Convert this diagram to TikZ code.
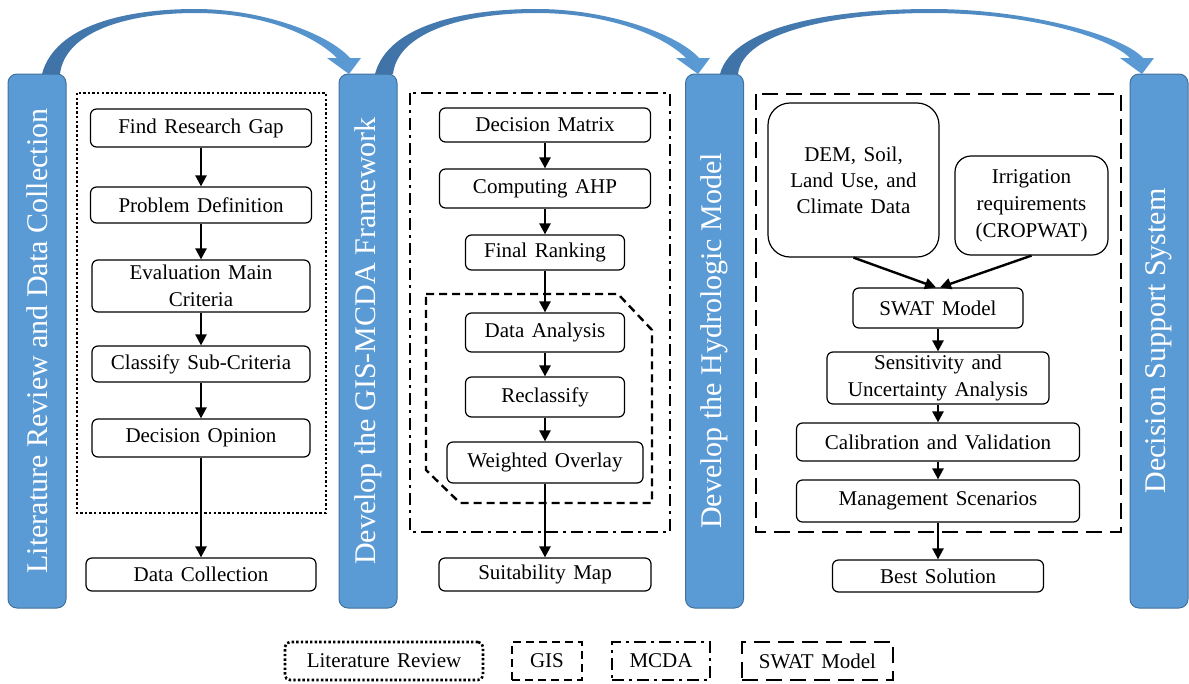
\documentclass[tikz,border=0pt]{standalone}
\usepackage{fontspec}
\setmainfont{Liberation Serif}
\usetikzlibrary{arrows.meta}
\definecolor{pillarfill}{HTML}{5B9BD5}
\definecolor{pillarline}{HTML}{41719C}
\definecolor{arcdark}{HTML}{3F72A6}
\definecolor{arclight}{HTML}{5B9BD5}

% #1 = left x of the tail, #2 = x of the tip
\newcommand\blueswoop[2]{%
 \pgfmathsetmacro\swA{#1}%
 \pgfmathsetmacro\swB{#1+18}%
 \pgfmathsetmacro\swM{(#1+#2)/2}%
 \pgfmathsetmacro\swD{0.45*(\swM-#1)}%
 \shade[left color=arcdark,right color=arclight,draw=none]
 (\swA,74) .. controls ({\swA+13},25) and ({\swM-\swD},9) .. (\swM,9)
 .. controls ({\swM+\swD},9) and ({#2-19},35) .. ({#2+1},58)
 -- ({#2+12},58) -- (#2,74) -- ({#2-22},58) -- ({#2-12},58)
 .. controls ({#2-34},36) and ({\swM+\swD},13) .. (\swM,13)
 .. controls ({\swM-\swD},13) and ({\swB+5},32) .. (\swB,74) -- cycle;
}
\newcommand\boxfont{\fontsize{21}{27}\selectfont\spaceskip=7.5pt plus 2pt minus 1pt\relax}
\newcommand\demfont{\fontsize{21}{26}\selectfont\spaceskip=7.5pt plus 2pt minus 1pt\relax}

\begin{document}
\begin{tikzpicture}[x=1pt,y=-1pt,
 box/.style={draw, line width=1.2pt, rounded corners=6pt, fill=white, align=center,
   inner sep=2pt, font=\boxfont},
 pillar/.style={draw=pillarline, line width=1pt, fill=pillarfill, rounded corners=9pt,
   text=white, font=\fontsize{30}{32}\selectfont, rotate=90,
   minimum height=58pt, minimum width=534pt, inner sep=0pt},
 flow/.style={-{Triangle[width=11pt,length=11pt]}, line width=2.4pt},
 dotframe/.style={line width=2.6pt, dash pattern=on 2.4pt off 2.2pt},
 gisframe/.style={line width=2.4pt, dash pattern=on 8pt off 5pt},
 mcdaframe/.style={line width=2.4pt, dash pattern=on 12pt off 5pt on 3pt off 5pt},
 swatframe/.style={line width=2.6pt, dash pattern=on 16pt off 8pt},
 legend/.style={align=center, inner sep=0pt, minimum height=38pt, font=\boxfont}
]
\useasboundingbox (0,0) rectangle (1189,683);

% pillars
\node[pillar] (p1) at (37,341) {Literature Review and Data Collection};
\node[pillar] (p2) at (368,341) {Develop the GIS-MCDA Framework};
\node[pillar] (p3) at (714.5,341) {Develop the Hydrologic Model};
\node[pillar] (p4) at (1159,341) {Decision Support System};

% curved arrows between pillars
\blueswoop{42}{349}
\blueswoop{375}{698}
\blueswoop{720}{1142}

% frames
\draw[dotframe] (77,93) rectangle (326,513);
\draw[mcdaframe] (410,93) rectangle (670,532);
\draw[gisframe] (426,294) -- (618,294) -- (652,330) -- (652,503) -- (460,503) -- (426,470) -- cycle;
\draw[swatframe] (756,94) rectangle (1121,532);

% left column
\node[box, minimum width=221pt, minimum height=38pt] (find) at (201,128) {Find Research Gap};
\node[box, minimum width=221pt, minimum height=36pt] (prob) at (201,205) {Problem Definition};
\node[box, minimum width=218pt, minimum height=52pt] (eval) at (201,286) {Evaluation Main\\Criteria};
\node[box, minimum width=218pt, minimum height=36pt] (clas) at (201,364) {Classify Sub-Criteria};
\node[box, minimum width=218pt, minimum height=38pt] (deci) at (201,438) {Decision Opinion};
\node[box, minimum width=230pt, minimum height=33pt] (dcol) at (201,574.5) {Data Collection};

\draw[flow] (find) -- (prob);
\draw[flow] (prob) -- (eval);
\draw[flow] (eval) -- (clas);
\draw[flow] (clas) -- (deci);
\draw[flow] (deci) -- (dcol);

% middle column
\node[box, minimum width=211pt, minimum height=34pt] (dm) at (545,125) {Decision Matrix};
\node[box, minimum width=211pt, minimum height=39pt] (ahp) at (545,188.5) {Computing AHP};
\node[box, minimum width=159pt, minimum height=35pt] (fr) at (545,252.5) {Final Ranking};
\node[box, minimum width=159pt, minimum height=39pt] (da) at (545,332.5) {Data Analysis};
\node[box, minimum width=159pt, minimum height=40pt] (rc) at (545,397) {Reclassify};
\node[box, minimum width=196pt, minimum height=41pt] (wo) at (545,462.5) {Weighted Overlay};
\node[box, minimum width=212pt, minimum height=33pt] (sm) at (545,574.5) {Suitability Map};

\draw[flow] (dm) -- (ahp);
\draw[flow] (ahp) -- (fr);
\draw[flow] (fr) -- (da);
\draw[flow] (da) -- (rc);
\draw[flow] (rc) -- (wo);
\draw[flow] (wo) -- (sm);

% right column
\node[box, rounded corners=22pt, minimum width=171pt, minimum height=154pt,
  font=\demfont] (dem) at (853.5,180) {DEM, Soil,\\Land Use, and\\Climate Data};
\node[box, rounded corners=16pt, minimum width=153pt, minimum height=99pt] (irr) at (1031.5,205.5) {Irrigation\\requirements\\(CROPWAT)};
\node[box, minimum width=170pt, minimum height=40pt] (swat) at (938,308) {SWAT Model};
\node[box, minimum width=222pt, minimum height=52pt] (sens) at (938,378) {Sensitivity and\\Uncertainty Analysis};
\node[box, minimum width=283pt, minimum height=38pt] (cal) at (938,442) {Calibration and Validation};
\node[box, minimum width=283pt, minimum height=42pt] (mgmt) at (938,501) {Management Scenarios};
\node[box, minimum width=211pt, minimum height=32pt] (best) at (938,576) {Best Solution};

\draw[flow] (dem.south) -- ([xshift=-2pt]swat.north);
\draw[flow] (irr.south) -- ([xshift=2pt]swat.north);
\draw[flow] (swat) -- (sens);
\draw[flow] (sens) -- (cal);
\draw[flow] (cal) -- (mgmt);
\draw[flow] (mgmt) -- (best);

% legend
\node[legend, draw, dotframe, rounded corners=5pt, minimum width=198pt] (lgl) at (384,661) {Literature Review};
\node[legend, draw, gisframe, minimum width=70pt] (lgg) at (547,661) {GIS};
\node[legend, draw, mcdaframe, minimum width=98pt] (lgm) at (661,661) {MCDA};
\node[legend, draw, swatframe, minimum width=151pt] (lgs) at (817.5,661) {SWAT Model};
\end{tikzpicture}
\end{document}
